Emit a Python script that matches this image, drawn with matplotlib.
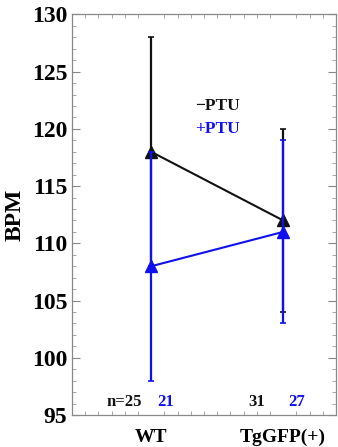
import matplotlib
matplotlib.use("Agg")
import matplotlib.pyplot as plt
from matplotlib.ticker import MultipleLocator

groups = ["WT", "TgGFP(+)"]
x_pos = [1, 2]
minus_mean = [118, 112]
minus_low = [108, 104]
minus_high = [128, 120]
plus_mean = [108, 111]
plus_low = [98, 103]
plus_high = [118, 119]
n_minus = ["n=25", "31"]
n_plus = ["21", "27"]

plt.rcParams['font.family'] = ['Liberation Serif', 'DejaVu Serif']
plt.rcParams['font.weight'] = 'bold'

fig = plt.figure(figsize=(3.38, 4.47), dpi=100)
ax = fig.add_axes([0.213, 0.0716, 0.781, 0.896])

def draw(mean, low, high, color, z):
    yerr = [[m - l for m, l in zip(mean, low)], [h - m for m, h in zip(mean, high)]]
    ax.errorbar(x_pos, mean, yerr=yerr, color=color, marker='^', markersize=8,
                lw=1.5, elinewidth=1.6, capsize=2.5, capthick=1.2, zorder=z)

draw(minus_mean, minus_low, minus_high, '#111111', 3)
draw(plus_mean, plus_low, plus_high, '#1010ee', 4)

ax.set_xlim(0.4, 2.4)
ax.set_ylim(95, 130)
ax.set_xticks(x_pos)
ax.set_xticklabels(groups, fontsize=14, fontweight='bold')
ax.set_yticks([95, 100, 105, 110, 115, 120, 125, 130])
ax.yaxis.set_minor_locator(MultipleLocator(1))
ax.xaxis.set_minor_locator(MultipleLocator(0.1))
ax.tick_params(axis='y', labelsize=17, direction='in', length=6, color='#888888', right=True, width=0.8)
ax.tick_params(axis='y', which='minor', direction='in', length=3, color='#999999', right=True, width=0.6)
ax.tick_params(axis='x', which='major', direction='in', length=0, pad=10, top=False)
ax.tick_params(axis='x', which='minor', direction='in', length=3, color='#999999', top=True, width=0.6)
for lab in ax.get_yticklabels():
    lab.set_fontweight('bold')
for s in ax.spines.values():
    s.set_color('#888888')
    s.set_linewidth(0.9)

ax.set_ylabel("BPM", fontsize=17, fontweight='bold', labelpad=4)

ax.text(0.665, 96.1, n_minus[0], fontsize=12, fontweight='bold', color='#111111', va='center', ha='left')
ax.text(1.044, 96.1, n_plus[0], fontsize=12, fontweight='bold', color='#1010ee', va='center', ha='left')
ax.text(1.733, 96.1, n_minus[1], fontsize=12, fontweight='bold', color='#111111', va='center', ha='left')
ax.text(2.036, 96.1, n_plus[1], fontsize=12, fontweight='bold', color='#1010ee', va='center', ha='left')

ax.text(1.33, 122.0, "\u2212PTU", fontsize=12.5, fontweight='bold', color='#111111', va='center', ha='left')
ax.text(1.33, 120.0, "+PTU", fontsize=12.5, fontweight='bold', color='#1010ee', va='center', ha='left')

fig.savefig("out.png", dpi=100)
